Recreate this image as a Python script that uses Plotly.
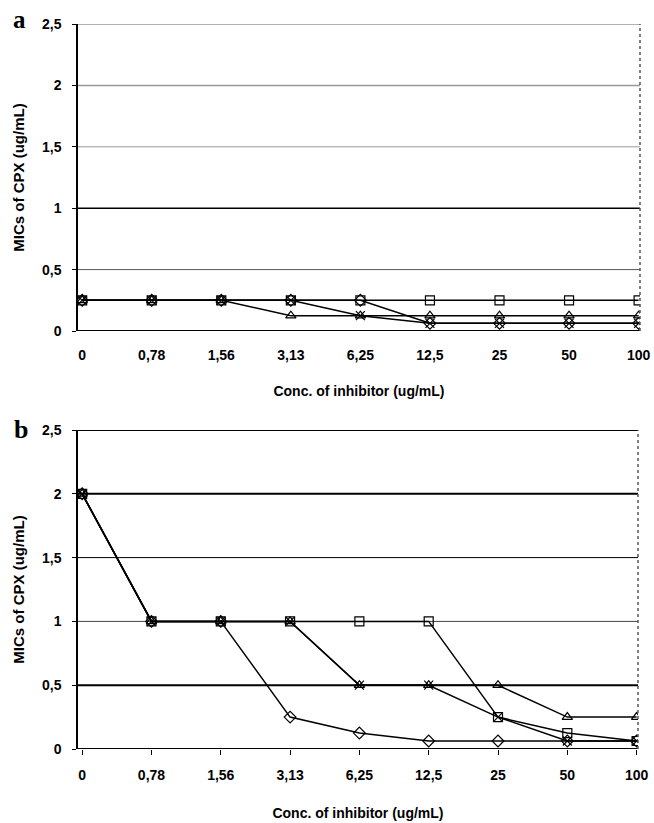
import plotly.graph_objects as go

categories = ["0", "0,78", "1,56", "3,13", "6,25", "12,5", "25", "50", "100"]
y_ticks = [0, 0.5, 1, 1.5, 2, 2.5]
y_ticktext = ["0", "0,5", "1", "1,5", "2", "2,5"]

# Panel a
a_square = [0.25, 0.25, 0.25, 0.25, 0.25, 0.25, 0.25, 0.25, 0.25]
a_triangle = [0.25, 0.25, 0.25, 0.125, 0.125, 0.125, 0.125, 0.125, 0.125]
a_diamond = [0.25, 0.25, 0.25, 0.25, 0.25, 0.0625, 0.0625, 0.0625, 0.0625]
a_star = [0.25, 0.25, 0.25, 0.25, 0.125, 0.0625, 0.0625, 0.0625, 0.0625]

# Panel b
b_square = [2, 1, 1, 1, 1, 1, 0.25, 0.125, 0.0625]
b_triangle = [2, 1, 1, 1, 0.5, 0.5, 0.5, 0.25, 0.25]
b_diamond = [2, 1, 1, 0.25, 0.125, 0.0625, 0.0625, 0.0625, 0.0625]
b_star = [2, 1, 1, 1, 0.5, 0.5, 0.25, 0.0625, 0.0625]

idx = list(range(len(categories)))
W, H = 654, 823

def px(x):
    return x / W

def py(y):
    return 1 - y / H

fig = go.Figure()

def add_series(vals, symbol, xa, ya, size=9):
    fig.add_trace(go.Scatter(
        x=idx, y=vals, mode="lines+markers", xaxis=xa, yaxis=ya,
        line=dict(color="black", width=1.5),
        marker=dict(symbol=symbol, size=size, color="black",
                    line=dict(color="black", width=1.2)),
        showlegend=False, hoverinfo="skip"))

for vals, sym in [(a_star, "x-thin-open"), (a_diamond, "diamond-open"),
                  (a_triangle, "triangle-up-open"), (a_square, "square-open")]:
    add_series(vals, sym, "x", "y")
for vals, sym in [(b_star, "x-thin-open"), (b_diamond, "diamond-open"),
                  (b_triangle, "triangle-up-open"), (b_square, "square-open")]:
    add_series(vals, sym, "x2", "y2")

font_tick = dict(family="Liberation Sans, Arial", size=14, color="black", weight="bold")
font_xtitle = dict(family="Liberation Sans, Arial", size=14, color="black", weight="bold")
font_ytitle = dict(family="Liberation Sans, Arial", size=15, color="black", weight="bold")

def xaxis(domain, anchor, ticks):
    return dict(domain=domain, anchor=anchor, range=[-0.06, 8.02], automargin=False,
                tickvals=idx, ticktext=categories, tickfont=font_tick,
                showgrid=False, zeroline=False, showline=False,
                ticks="outside" if ticks else "", ticklen=5, tickcolor="black",
                ticklabelstandoff=8 if ticks else 14,
                title=dict(text="Conc. of inhibitor (ug/mL)", font=font_xtitle,
                           standoff=26 if ticks else 24))

def yaxis(domain, anchor):
    return dict(domain=domain, anchor=anchor, range=[0, 2.5], automargin=False,
                tickvals=y_ticks, ticktext=y_ticktext, tickfont=font_tick,
                showgrid=False, zeroline=False, showline=True, linecolor="black",
                linewidth=1.5, ticks="outside", ticklen=4, tickcolor="black",
                ticklabelstandoff=8,
                title=dict(text="MICs of CPX (ug/mL)", font=font_ytitle, standoff=14))

ya_dom = [py(331), py(24)]
yb_dom = [py(749), py(430)]
xa_dom = [px(78), px(640)]
xb_dom = [px(78), px(638)]

fig.update_layout(
    width=W, height=H, margin=dict(l=0, r=0, t=0, b=0, autoexpand=False),
    paper_bgcolor="white", plot_bgcolor="white",
    xaxis=xaxis(xa_dom, "y", False), yaxis=yaxis(ya_dom, "x"),
    xaxis2=xaxis(xb_dom, "y2", True), yaxis2=yaxis(yb_dom, "x2"),
)

shapes = []
grid_a = {2.5: ("#999999", 1.5), 2: ("#999999", 1.5), 1.5: ("#999999", 1),
          1: ("black", 1.5), 0.5: ("#555555", 1), 0: ("black", 2)}
grid_b = {2.5: ("black", 2), 2: ("black", 2), 1.5: ("black", 1),
          1: ("#444444", 1), 0.5: ("black", 2), 0: ("black", 2)}
for xr, yr, grid in [("x", "y", grid_a), ("x2", "y2", grid_b)]:
    for v, (c, w) in grid.items():
        shapes.append(dict(type="line", xref=xr + " domain", yref=yr,
                           x0=0, x1=1, y0=v, y1=v, line=dict(color=c, width=w),
                           layer="below"))
    shapes.append(dict(type="line", xref=xr + " domain", yref=yr + " domain",
                       x0=1, x1=1, y0=0, y1=1, line=dict(color="#555555", width=1.5, dash="dot")))
fig.update_layout(shapes=shapes)

fig.add_annotation(text="a", x=px(11), y=py(20), xref="paper", yref="paper",
                   showarrow=False, xanchor="left", yanchor="middle",
                   font=dict(family="Liberation Serif, Times New Roman", size=25,
                             color="black", weight="bold"))
fig.add_annotation(text="b", x=px(12), y=py(429), xref="paper", yref="paper",
                   showarrow=False, xanchor="left", yanchor="middle",
                   font=dict(family="Liberation Serif, Times New Roman", size=26,
                             color="black", weight="bold"))

fig.write_html(
    "out.html",
    config={"displayModeBar": False},
    post_script="document.body.style.margin='0px';"
                "document.documentElement.style.overflow='hidden';",
)
